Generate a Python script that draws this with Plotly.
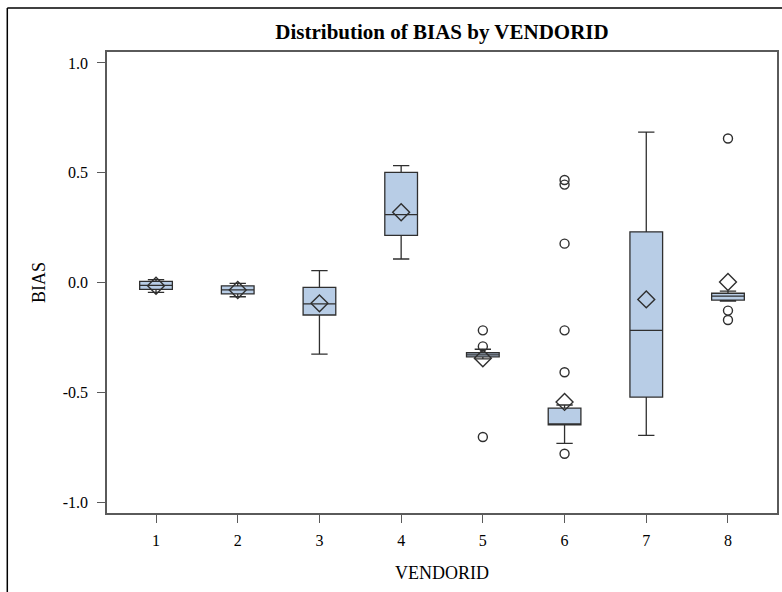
import plotly.graph_objects as go

# ---- data ----
vendor = [1, 2, 3, 4, 5, 6, 7, 8]
q1 = [-0.031, -0.052, -0.148, 0.215, -0.339, -0.649, -0.522, -0.080]
median = [-0.013, -0.034, -0.097, 0.309, -0.330, -0.645, -0.218, -0.062]
q3 = [0.005, -0.015, -0.022, 0.502, -0.320, -0.572, 0.231, -0.049]
lower_whisker = [-0.045, -0.065, -0.326, 0.107, -0.348, -0.733, -0.696, -0.085]
upper_whisker = [0.013, -0.004, 0.054, 0.532, -0.304, -0.558, 0.685, -0.039]
means = [-0.015, -0.034, -0.095, 0.320, -0.345, -0.544, -0.077, 0.002]

outlier_vendor = [5, 5, 5, 6, 6, 6, 6, 6, 6, 8, 8, 8]
outlier_bias = [-0.218, -0.291, -0.704, 0.467, 0.446, 0.177, -0.218, -0.409, -0.780, 0.656, -0.128, -0.171]

y_ticks = [-1.0, -0.5, 0.0, 0.5, 1.0]
y_tick_labels = ["-1.0", "-0.5", "0.0", "0.5", "1.0"]

FONT = "Liberation Serif"
FILL = "#b8cde6"
EDGE = "#2f2f2f"

fig = go.Figure()
fig.add_trace(go.Box(
    x=vendor, q1=q1, median=median, q3=q3,
    lowerfence=lower_whisker, upperfence=upper_whisker,
    width=0.4, whiskerwidth=0.5,
    fillcolor=FILL, line=dict(color=EDGE, width=1.3),
    boxpoints=False, hoverinfo="skip", showlegend=False,
))
fig.add_trace(go.Scatter(
    x=vendor, y=means, mode="markers",
    marker=dict(symbol="diamond-open", size=13, color=EDGE, line=dict(width=1.4, color=EDGE)),
    hoverinfo="skip", showlegend=False,
))
fig.add_trace(go.Scatter(
    x=outlier_vendor, y=outlier_bias, mode="markers",
    marker=dict(symbol="circle-open", size=9, color=EDGE, line=dict(width=1.4, color=EDGE)),
    hoverinfo="skip", showlegend=False,
))

axis_common = dict(
    showline=True, mirror=True, linecolor="#5a5a5a", linewidth=1.5,
    ticks="outside", ticklen=8, tickwidth=1.3, tickcolor="#5a5a5a",
    showgrid=False, zeroline=False,
    tickfont=dict(family=FONT, size=16, color="#000"),
)

fig.update_layout(
    width=782, height=592, autosize=False,
    margin=dict(l=107, r=3, t=52, b=79),
    paper_bgcolor="white", plot_bgcolor="white",
    hovermode=False,
    title=dict(
        text="Distribution of BIAS by VENDORID",
        font=dict(family=FONT, size=21, color="#000", weight="bold"),
        x=0.5, xref="paper", xanchor="center",
        y=1 - 32 / 592, yref="container", yanchor="middle",
    ),
    xaxis=dict(
        range=[0.4, 8.6], tickmode="array", tickvals=vendor,
        ticktext=[str(v) for v in vendor],
        title=dict(text="VENDORID", font=dict(family=FONT, size=18, color="#000"), standoff=18),
        ticklabelstandoff=4,
        **axis_common,
    ),
    yaxis=dict(
        range=[-1.05, 1.05], tickmode="array", tickvals=y_ticks, ticktext=y_tick_labels,
        title=dict(text="BIAS", font=dict(family=FONT, size=18, color="#000"), standoff=12),
        ticklabelstandoff=6,
        **axis_common,
    ),
    shapes=[
        dict(type="line", xref="paper", yref="paper",
             x0=(7 - 107) / 672, x1=(790 - 107) / 672,
             y0=(513 - 8) / 461, y1=(513 - 8) / 461,
             line=dict(color="#000", width=1.5)),
        dict(type="line", xref="paper", yref="paper",
             x0=(7 - 107) / 672, x1=(7 - 107) / 672,
             y0=(513 - 8) / 461, y1=(513 - 600) / 461,
             line=dict(color="#000", width=1.5)),
    ],
)

fig.write_html(
    "out.html",
    config={"displayModeBar": False},
    post_script="document.body.style.margin='0';",
)
